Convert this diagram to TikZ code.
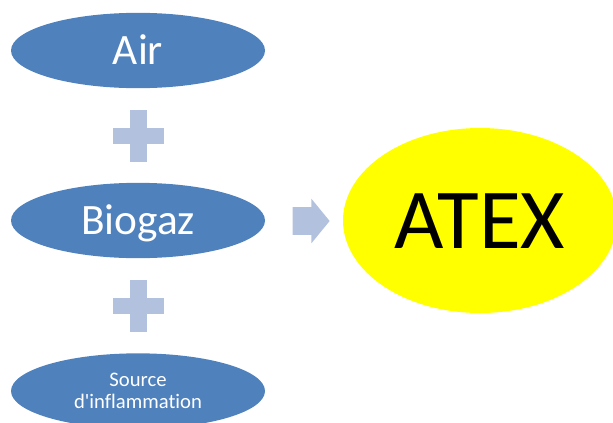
\documentclass[tikz,border=0pt]{standalone}
\usepackage{fontspec}
\setmainfont{Carlito}[Ligatures={NoCommon}]
\usetikzlibrary{shapes.geometric, shapes.arrows}
\definecolor{officeBlue}{HTML}{4F81BD}
\definecolor{paleBlue}{HTML}{B2C1DD}
\definecolor{atexYellow}{HTML}{FFFF00}
\tikzset{
  term/.style    = {ellipse, fill=officeBlue, text=white, inner sep=0pt,
                    minimum width=190.5pt, minimum height=56.5pt},
  bigterm/.style = {term, font=\fontsize{32.5}{39}\selectfont,
                    text height=21pt, text depth=0pt},
  smallterm/.style = {term, align=center, font=\fontsize{15.5}{16.5}\selectfont,
                    text depth=0pt},
  result/.style  = {ellipse, fill=atexYellow, inner sep=0pt,
                    minimum width=205.5pt, minimum height=138.75pt,
                    font=\fontsize{64}{77}\selectfont, text height=41.5pt, text depth=0pt},
  yields/.style  = {single arrow, fill=paleBlue, inner sep=0pt,
                    text height=10.125pt, text depth=10.125pt, text width=0pt,
                    minimum height=27.75pt, minimum width=33pt,
                    single arrow head extend=6.375pt, single arrow tip angle=101.4},
  plussign/.pic  = {\fill[paleBlue] (-25.5,-8) rectangle (25.5,8);
                    \fill[paleBlue] (-8.5,-26) rectangle (8.5,26);}
}
\begin{document}
\begin{tikzpicture}[x=0.75pt, y=-0.75pt]
  \useasboundingbox (0,0) rectangle (613,422);
  \clip (0,0) rectangle (613,422);
  % ingredients
  \node[bigterm] (air) at (138,50.5) {Air};
  \node[bigterm] (biogaz) at (138,220.5) {Biogaz};
  \node[smallterm] (source) at (138,391) {Source\\d\textquotesingle inflammation};
  \pic at (138,136) {plussign};
  \pic at (138,306) {plussign};
  % result
  \node[yields] (arr) at (305.5,221) {};
  \node[result] (atex) at (480,220.5) {ATEX};
\end{tikzpicture}
\end{document}
